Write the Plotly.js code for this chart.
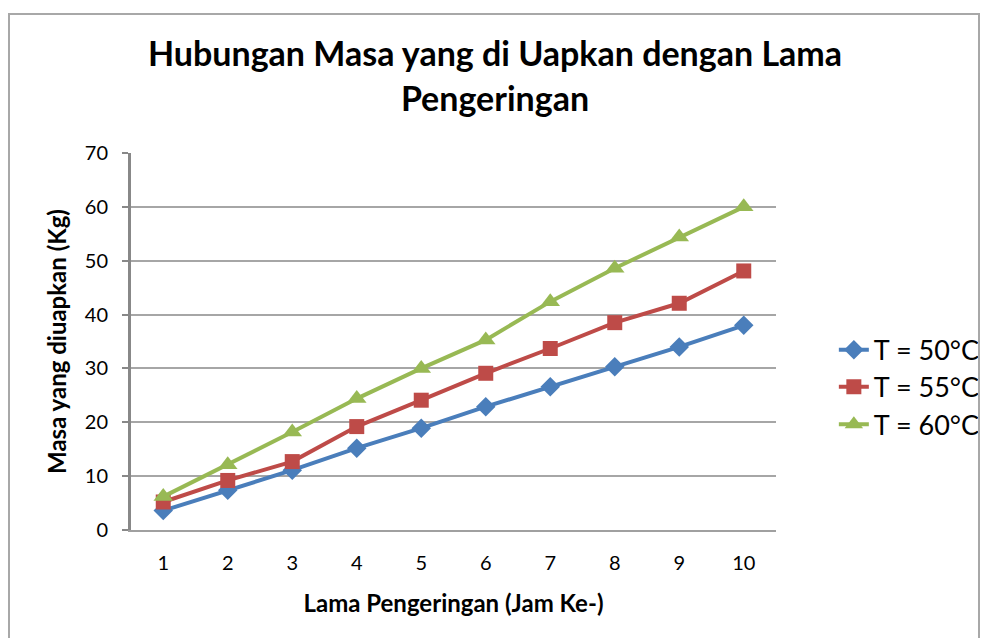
<!DOCTYPE html>
<html>
<head>
<meta charset="utf-8">
<script src="https://cdn.plot.ly/plotly-3.0.1.min.js"></script>
<style>
html,body{margin:0;padding:0;background:#fff;}
#chart{width:996px;height:638px;position:absolute;left:0;top:0;}
#frame{position:absolute;left:8px;top:13px;width:968px;height:700px;border:2px solid #a8a8a8;pointer-events:none;}
</style>
</head>
<body>
<div id="chart"></div>
<div id="frame"></div>
<script>
const hours = [1,2,3,4,5,6,7,8,9,10];
const t50 = [3.6, 7.4, 11.1, 15.2, 18.9, 22.9, 26.6, 30.3, 34.0, 38.0];
const t55 = [5.2, 9.2, 12.7, 19.2, 24.1, 29.1, 33.7, 38.5, 42.1, 48.1];
const t60 = [6.2, 12.1, 18.2, 24.4, 30.0, 35.3, 42.4, 48.6, 54.4, 60.0];
const seriesNames = ['T = 50°C', 'T = 55°C', 'T = 60°C'];

const font = 'Lato, "Liberation Sans", sans-serif';
const traces = [
  {x: hours, y: t50, name: seriesNames[0], mode: 'lines+markers', legend: 'legend',
   line: {color: '#4a7ebb', width: 4}, marker: {symbol: 'diamond', size: 15, color: '#4a7ebb'}},
  {x: hours, y: t55, name: seriesNames[1], mode: 'lines+markers', legend: 'legend2',
   line: {color: '#be4b48', width: 4}, marker: {symbol: 'square', size: 15, color: '#be4b48'}},
  {x: hours, y: t60, name: seriesNames[2], mode: 'lines+markers', legend: 'legend3',
   line: {color: '#98b954', width: 4}, marker: {symbol: 'triangle-up', size: 17, color: '#98b954'}}
];
const legBase = {xref: 'paper', yref: 'paper', x: 1.088, xanchor: 'left', yanchor: 'middle',
  font: {family: font, size: 27, color: '#000'}, bgcolor: 'rgba(0,0,0,0)'};
const layout = {
  width: 996, height: 638,
  paper_bgcolor: '#fff', plot_bgcolor: '#fff',
  margin: {l: 131, r: 219, t: 153, b: 108},
  title: {text: '<b>Hubungan Masa yang di Uapkan dengan Lama<br>Pengeringan</b>',
    font: {family: font, size: 34, color: '#000'}, x: 0.497, xanchor: 'center', y: 0.896, yanchor: 'top'},
  xaxis: {range: [0.5, 10.5], tickvals: hours, ticktext: hours.map(String), showgrid: false,
    showline: true, linecolor: '#a0a0a0', linewidth: 2, ticks: '', zeroline: false,
    ticklabelstandoff: 14,
    tickfont: {family: font, size: 20, color: '#000'},
    title: {text: '<b>Lama Pengeringan (Jam Ke-)</b>', font: {family: font, size: 24, color: '#000'}, standoff: 22}},
  yaxis: {range: [0, 70], dtick: 10, showgrid: true, gridcolor: '#a6a6a6', gridwidth: 2,
    showline: true, linecolor: '#888', linewidth: 3, ticks: 'outside', ticklen: 6, tickcolor: '#888', tickwidth: 2,
    zeroline: false, ticklabelstandoff: 10, tickfont: {family: font, size: 20, color: '#000'},
    title: {text: '<b>Masa yang diuapkan (Kg)</b>', font: {family: font, size: 24, color: '#000'}, standoff: 12}},
  legend: Object.assign({}, legBase, {y: 0.477}),
  legend2: Object.assign({}, legBase, {y: 0.379}),
  legend3: Object.assign({}, legBase, {y: 0.279}),
  showlegend: true
};
Plotly.newPlot('chart', traces, layout, {displayModeBar: false, staticPlot: true});
</script>
</body>
</html>
